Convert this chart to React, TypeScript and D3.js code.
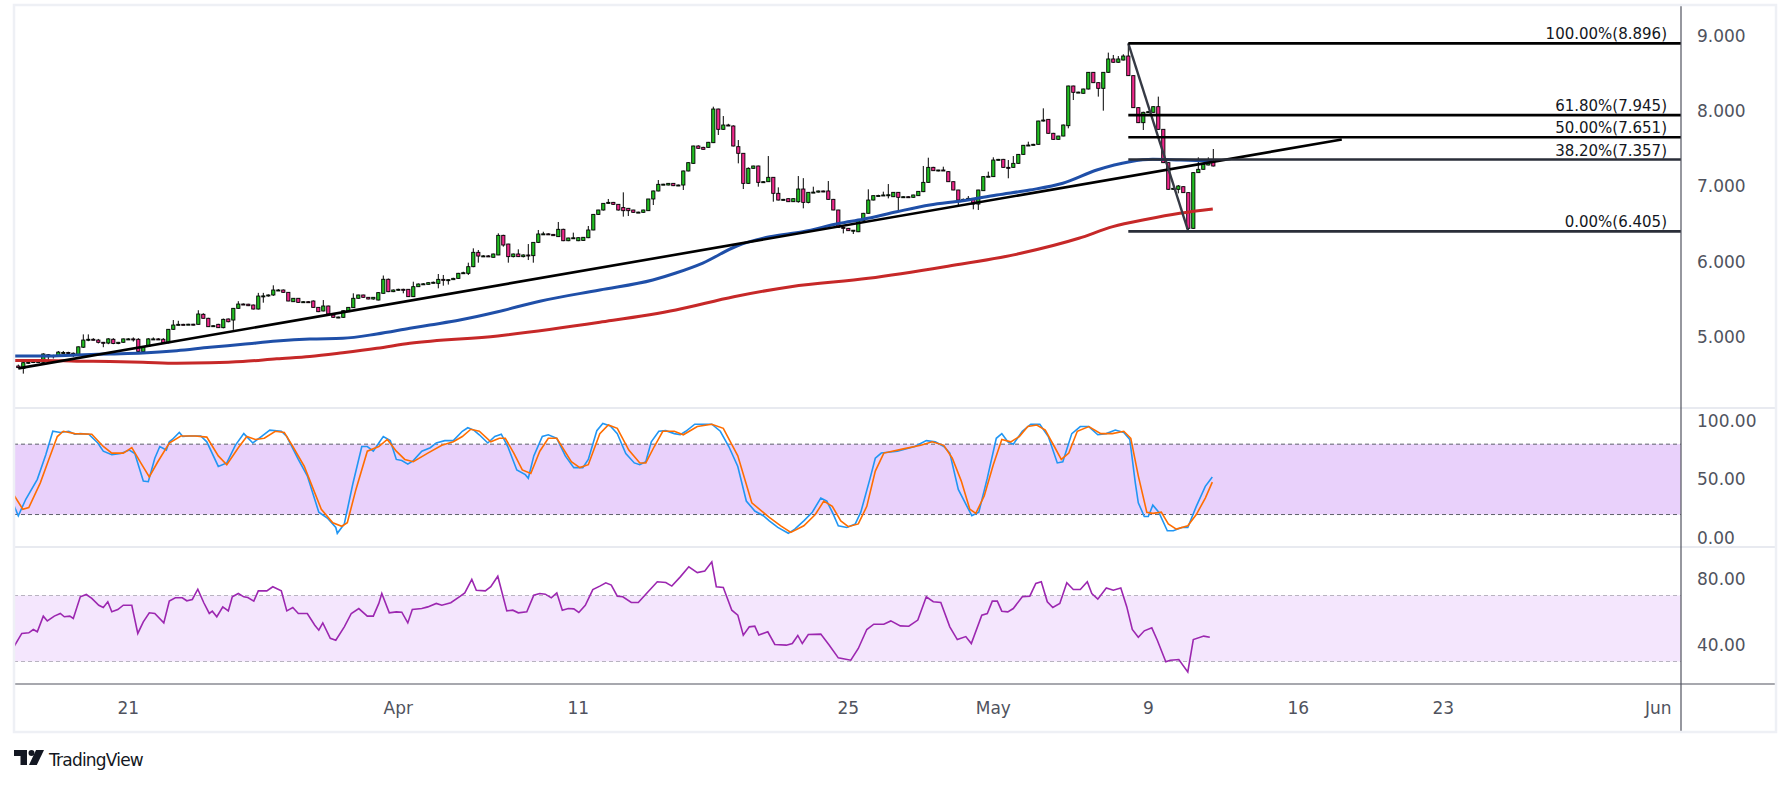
import * as d3 from "d3";

// 4H candles, one row per bar: [open, high, low, close]
const candles: [number, number, number, number][] = [
  [4.62, 4.64, 4.59, 4.6], [4.59, 4.67, 4.52, 4.665], [4.665, 4.69, 4.65, 4.67], [4.67, 4.7, 4.66, 4.68],
  [4.68, 4.7, 4.67, 4.68], [4.67, 4.79, 4.66, 4.78], [4.77, 4.78, 4.7, 4.745], [4.745, 4.77, 4.72, 4.76],
  [4.76, 4.82, 4.75, 4.805], [4.8, 4.82, 4.79, 4.8], [4.8, 4.81, 4.78, 4.79], [4.79, 4.8, 4.74, 4.78],
  [4.775, 4.88, 4.77, 4.875], [4.87, 5.04, 4.86, 4.965], [4.965, 5.04, 4.95, 4.975], [4.975, 4.99, 4.96, 4.97],
  [4.965, 4.98, 4.92, 4.935], [4.935, 4.94, 4.87, 4.93], [4.925, 4.99, 4.91, 4.98], [4.975, 4.99, 4.91, 4.92],
  [4.92, 4.94, 4.91, 4.935], [4.935, 4.985, 4.93, 4.98], [4.98, 4.99, 4.97, 4.98], [4.98, 5.0, 4.945, 4.975],
  [4.975, 4.99, 4.81, 4.815], [4.81, 4.88, 4.8, 4.88], [4.88, 4.99, 4.875, 4.98], [4.98, 5.0, 4.97, 4.98],
  [4.98, 4.99, 4.97, 4.975], [4.975, 4.99, 4.92, 4.93], [4.93, 5.11, 4.92, 5.107], [5.107, 5.23, 5.1, 5.164],
  [5.164, 5.22, 5.16, 5.173], [5.173, 5.18, 5.165, 5.17], [5.17, 5.18, 5.165, 5.175], [5.175, 5.18, 5.16, 5.173],
  [5.173, 5.36, 5.17, 5.31], [5.306, 5.32, 5.25, 5.253], [5.253, 5.26, 5.14, 5.142], [5.142, 5.16, 5.14, 5.155],
  [5.173, 5.18, 5.125, 5.129], [5.129, 5.25, 5.12, 5.239], [5.244, 5.25, 5.2, 5.208], [5.23, 5.39, 5.1, 5.385],
  [5.385, 5.48, 5.38, 5.442], [5.442, 5.45, 5.43, 5.44], [5.44, 5.445, 5.415, 5.42], [5.429, 5.435, 5.37, 5.376],
  [5.376, 5.59, 5.37, 5.548], [5.548, 5.59, 5.46, 5.55], [5.55, 5.57, 5.54, 5.562], [5.562, 5.69, 5.55, 5.628],
  [5.628, 5.64, 5.62, 5.628], [5.628, 5.635, 5.59, 5.597], [5.597, 5.6, 5.48, 5.482], [5.473, 5.52, 5.47, 5.518],
  [5.518, 5.52, 5.46, 5.464], [5.464, 5.48, 5.46, 5.473], [5.473, 5.48, 5.46, 5.47], [5.482, 5.49, 5.395, 5.398],
  [5.398, 5.4, 5.335, 5.341], [5.35, 5.495, 5.345, 5.416], [5.416, 5.42, 5.305, 5.31], [5.297, 5.3, 5.26, 5.266],
  [5.266, 5.275, 5.255, 5.27], [5.266, 5.36, 5.26, 5.354], [5.341, 5.4, 5.34, 5.398], [5.394, 5.584, 5.39, 5.518],
  [5.518, 5.565, 5.515, 5.562], [5.562, 5.565, 5.525, 5.531], [5.531, 5.535, 5.505, 5.509], [5.509, 5.535, 5.5, 5.531],
  [5.495, 5.6, 5.49, 5.593], [5.584, 5.82, 5.58, 5.77], [5.77, 5.78, 5.6, 5.606], [5.606, 5.635, 5.6, 5.628],
  [5.628, 5.645, 5.62, 5.637], [5.637, 5.645, 5.584, 5.635], [5.637, 5.64, 5.535, 5.54], [5.54, 5.738, 5.535, 5.672],
  [5.672, 5.715, 5.67, 5.707], [5.707, 5.72, 5.7, 5.71], [5.703, 5.73, 5.7, 5.725], [5.725, 5.74, 5.715, 5.73],
  [5.716, 5.84, 5.65, 5.769], [5.769, 5.827, 5.685, 5.76], [5.76, 5.77, 5.7, 5.765], [5.765, 5.79, 5.76, 5.782],
  [5.782, 5.855, 5.778, 5.849], [5.849, 5.87, 5.84, 5.857], [5.849, 5.99, 5.827, 5.937], [5.937, 6.18, 5.93, 6.127],
  [6.127, 6.158, 5.99, 6.078], [6.078, 6.09, 6.07, 6.08], [6.08, 6.09, 6.07, 6.075], [6.061, 6.11, 6.06, 6.105],
  [6.092, 6.379, 6.09, 6.352], [6.352, 6.36, 6.202, 6.224], [6.237, 6.24, 5.99, 6.07], [6.07, 6.11, 6.06, 6.105],
  [6.105, 6.167, 6.065, 6.07], [6.07, 6.1, 6.06, 6.092], [6.092, 6.237, 6.025, 6.09], [6.083, 6.26, 5.99, 6.259],
  [6.259, 6.423, 6.25, 6.37], [6.37, 6.4, 6.36, 6.372], [6.372, 6.38, 6.36, 6.365], [6.365, 6.37, 6.345, 6.348],
  [6.335, 6.529, 6.33, 6.432], [6.432, 6.44, 6.275, 6.281], [6.281, 6.32, 6.275, 6.317], [6.317, 6.388, 6.31, 6.32],
  [6.281, 6.325, 6.275, 6.321], [6.285, 6.33, 6.28, 6.326], [6.321, 6.476, 6.315, 6.423], [6.423, 6.635, 6.42, 6.63],
  [6.63, 6.69, 6.625, 6.688], [6.688, 6.78, 6.68, 6.776], [6.776, 6.834, 6.77, 6.789], [6.789, 6.795, 6.755, 6.763],
  [6.763, 6.765, 6.68, 6.688], [6.72, 6.922, 6.6, 6.679], [6.71, 6.715, 6.608, 6.679], [6.688, 6.69, 6.65, 6.657],
  [6.657, 6.665, 6.65, 6.66], [6.657, 6.692, 6.65, 6.688], [6.679, 6.834, 6.675, 6.834], [6.834, 6.945, 6.754, 6.94],
  [6.94, 7.085, 6.935, 7.028], [7.028, 7.035, 7.02, 7.03], [7.019, 7.045, 7.015, 7.041], [7.041, 7.045, 7.005, 7.01],
  [7.01, 7.025, 7.005, 7.019], [7.019, 7.21, 6.953, 7.205], [7.205, 7.32, 7.2, 7.315], [7.306, 7.54, 7.3, 7.536],
  [7.536, 7.545, 7.5, 7.505], [7.518, 7.525, 7.49, 7.492], [7.518, 7.59, 7.515, 7.585], [7.58, 8.057, 7.575, 8.026],
  [8.026, 8.03, 7.682, 7.757], [7.757, 7.933, 7.75, 7.814], [7.814, 7.83, 7.8, 7.81], [7.801, 7.81, 7.53, 7.536],
  [7.527, 7.615, 7.306, 7.439], [7.439, 7.44, 6.966, 7.041], [7.041, 7.253, 7.035, 7.24], [7.24, 7.275, 7.235, 7.271],
  [7.271, 7.275, 6.997, 7.054], [7.054, 7.07, 7.05, 7.063], [7.063, 7.403, 7.06, 7.121], [7.121, 7.125, 6.798, 6.909],
  [6.909, 6.988, 6.815, 6.82], [6.82, 6.835, 6.815, 6.829], [6.838, 6.84, 6.795, 6.798], [6.798, 6.84, 6.795, 6.838],
  [6.798, 7.138, 6.785, 6.966], [6.966, 7.11, 6.71, 6.789], [6.789, 6.925, 6.776, 6.922], [6.922, 6.997, 6.915, 6.925],
  [6.925, 6.945, 6.92, 6.94], [6.94, 6.945, 6.925, 6.931], [6.94, 7.072, 6.825, 6.829], [6.829, 6.835, 6.685, 6.688],
  [6.688, 6.69, 6.45, 6.458], [6.458, 6.46, 6.378, 6.445], [6.445, 6.45, 6.41, 6.414], [6.414, 6.42, 6.37, 6.42],
  [6.4, 6.55, 6.395, 6.546], [6.546, 6.65, 6.54, 6.644], [6.644, 6.962, 6.64, 6.82], [6.82, 6.88, 6.815, 6.878],
  [6.878, 6.89, 6.87, 6.88], [6.88, 6.931, 6.875, 6.887], [6.887, 7.032, 6.842, 6.89], [6.864, 6.925, 6.86, 6.922],
  [6.922, 6.925, 6.666, 6.856], [6.856, 6.87, 6.85, 6.864], [6.864, 6.87, 6.855, 6.862], [6.856, 6.89, 6.85, 6.887],
  [6.878, 6.935, 6.875, 6.935], [6.931, 7.271, 6.925, 7.054], [7.054, 7.381, 7.05, 7.253], [7.253, 7.26, 7.205, 7.209],
  [7.209, 7.22, 7.2, 7.218], [7.218, 7.262, 7.205, 7.209], [7.196, 7.2, 7.06, 7.063], [7.063, 7.065, 6.95, 6.953],
  [6.953, 6.955, 6.754, 6.82], [6.82, 6.84, 6.815, 6.829], [6.829, 6.873, 6.82, 6.842], [6.842, 6.845, 6.697, 6.767],
  [6.767, 6.955, 6.688, 6.953], [6.944, 7.135, 6.94, 7.13], [7.13, 7.196, 7.125, 7.135], [7.13, 7.386, 7.125, 7.35],
  [7.35, 7.365, 7.345, 7.359], [7.359, 7.365, 7.25, 7.253], [7.253, 7.35, 7.108, 7.25], [7.253, 7.403, 7.25, 7.306],
  [7.306, 7.43, 7.3, 7.425], [7.425, 7.55, 7.42, 7.545], [7.545, 7.593, 7.54, 7.549], [7.549, 7.565, 7.545, 7.558],
  [7.558, 7.87, 7.555, 7.867], [7.867, 8.035, 7.86, 7.88], [7.889, 7.89, 7.7, 7.704], [7.704, 7.71, 7.62, 7.624],
  [7.624, 7.67, 7.62, 7.668], [7.668, 7.82, 7.665, 7.814], [7.805, 8.335, 7.77, 8.331], [8.331, 8.335, 8.145, 8.247],
  [8.247, 8.255, 8.24, 8.25], [8.234, 8.295, 8.23, 8.291], [8.291, 8.515, 8.285, 8.512], [8.512, 8.515, 8.37, 8.375],
  [8.375, 8.38, 8.19, 8.3], [8.3, 8.515, 8.004, 8.512], [8.512, 8.773, 8.505, 8.689], [8.689, 8.742, 8.64, 8.645],
  [8.645, 8.728, 8.64, 8.689], [8.675, 8.751, 8.67, 8.728], [8.728, 8.896, 8.465, 8.468], [8.468, 8.47, 8.04, 8.044],
  [8.044, 8.05, 7.84, 7.845], [7.845, 7.99, 7.748, 7.982], [7.982, 7.995, 7.975, 7.991], [7.982, 8.06, 7.978, 8.057],
  [8.057, 8.19, 7.75, 7.757], [7.757, 7.76, 7.31, 7.315], [7.315, 7.32, 6.955, 6.962], [6.962, 6.98, 6.955, 6.975],
  [6.962, 7.019, 6.909, 7.006], [6.997, 7.0, 6.915, 6.918], [6.918, 6.92, 6.405, 6.445], [6.445, 7.19, 6.44, 7.183],
  [7.183, 7.386, 7.18, 7.227], [7.227, 7.295, 7.225, 7.293], [7.284, 7.386, 7.28, 7.319], [7.319, 7.496, 7.265, 7.271],
];

// moving averages: [bar, price]
const ma50Points: [number, number][] = [
  [-0.7, 4.753], [4.9, 4.753], [11.7, 4.767], [18.3, 4.78], [24.9, 4.793], [31.7, 4.824], [38.3, 4.869],
  [44.9, 4.908], [51.7, 4.952], [58.3, 4.979], [64.9, 4.988], [71.7, 5.045], [78.3, 5.12], [82.3, 5.164],
  [88.3, 5.23], [95.9, 5.34], [104.3, 5.48], [116.3, 5.628], [126.9, 5.76], [131.5, 5.853], [136.9, 5.985],
  [143.7, 6.211], [150.3, 6.334], [156.9, 6.4], [164.3, 6.512], [168.9, 6.565], [175.7, 6.665], [182.3, 6.754],
  [188.9, 6.811], [195.7, 6.887], [202.3, 6.953], [208.9, 7.042], [215.7, 7.218], [222.3, 7.328], [226.9, 7.36],
  [232.3, 7.35], [238.9, 7.337],
];
const ma200Points: [number, number][] = [
  [-0.7, 4.694], [4.9, 4.694], [11.7, 4.685], [18.3, 4.681], [24.9, 4.672], [31.7, 4.658], [38.3, 4.664],
  [44.9, 4.681], [51.7, 4.717], [58.3, 4.747], [64.9, 4.797], [71.7, 4.855], [78.3, 4.922], [95.9, 5.02],
  [116.3, 5.2], [131.5, 5.363], [143.1, 5.539], [154.5, 5.672], [170, 5.783], [185.3, 5.937], [200.5, 6.114],
  [212.1, 6.313], [218.9, 6.467], [225.7, 6.565], [232.3, 6.644], [238.9, 6.701],
];

// stochastic %K and %D: [bar, value]
const stochK: [number, number][] = [
  [-0.8, 27], [0, 19], [1.5, 33], [3.8, 50], [5.5, 71], [6.9, 91], [8.4, 90], [10.1, 91], [11.3, 88.5], [12.4, 89],
  [14.1, 88.5], [15.9, 81], [17, 74], [18.7, 71], [20.5, 72], [22.2, 75], [23.3, 72], [25, 48.5], [26, 48], [27.3, 68],
  [28.3, 78], [29.6, 75], [30.2, 82], [30.8, 84], [32.2, 90], [32.9, 86.5], [34.2, 87], [36.5, 87], [37.7, 82], [40, 61],
  [41.7, 64], [43.4, 79], [45.1, 89], [46.9, 81], [48.6, 86.5], [50.3, 92], [52.6, 91], [53.7, 86.5], [56, 67], [57.8, 53],
  [60.1, 22], [61.8, 17], [63.5, 9], [63.8, 4], [65.2, 12], [66.9, 46], [68.7, 78], [69.8, 78], [71, 74], [72.1, 81],
  [73, 86.5], [74.4, 83], [75.6, 67], [76.7, 66], [77.9, 63], [79, 66], [80.7, 74], [82.4, 77], [83.6, 81], [85.3, 83],
  [87, 83], [88.8, 91], [89.9, 94], [91.1, 92], [92.2, 88], [93.9, 81], [95.3, 86.5], [96.6, 88.5], [97.9, 78], [99.7, 58],
  [101.4, 54], [102, 51], [103.1, 70], [104.8, 86.5], [106, 88], [107.7, 85], [109.4, 70], [111.1, 60], [112.9, 60], [114, 67],
  [115.7, 91.5], [116.9, 97.7], [118.4, 95.5], [119.8, 89], [121.5, 72], [123.2, 64], [124.3, 62.5], [125.5, 65], [126.6, 82], [128.1, 91],
  [129.5, 91.5], [131.2, 89], [132.4, 88], [133.5, 91], [135.3, 97], [137, 97], [138.7, 97], [140.4, 91], [142.1, 78], [143.9, 61],
  [145.6, 31.5], [147.3, 23], [149, 19], [150.2, 14.6], [151.9, 9], [154, 4], [155.3, 7.6], [157.1, 14.6], [158.8, 22], [160.5, 34],
  [161.7, 31.5], [162.8, 22], [164, 10.4], [165.7, 9], [167.4, 12], [168.5, 22], [170.3, 50], [171.4, 68], [172.6, 72.4], [175.8, 74],
  [179.3, 78], [181.6, 83], [183.4, 82], [185.1, 78], [186.3, 72.4], [188, 41.4], [189.2, 31.5], [190.7, 19], [192.1, 22], [193.8, 51],
  [195.6, 85], [196.7, 89], [197.9, 82], [199, 80], [200.8, 91], [202.5, 97], [204.3, 97], [206, 86.5], [207.8, 64], [208.9, 65],
  [210.7, 89], [212.4, 95], [214.1, 95], [215.9, 88], [217.6, 89], [219.4, 92], [221.1, 90], [222.3, 84], [223.4, 47], [224, 30],
  [225.2, 18.3], [226, 18.3], [226.9, 28], [228.1, 22], [229.8, 6.2], [231, 6.2], [232.7, 9], [233.9, 9], [235.6, 27], [237.4, 44],
  [238.8, 52],
];
const stochD: [number, number][] = [
  [-0.8, 36], [0.9, 24.5], [2.1, 26], [4.4, 47], [6.1, 67], [7.8, 86.5], [9, 91], [11.3, 89], [14.7, 88.5], [17, 78],
  [18.7, 72.4], [21, 72.4], [22.7, 77], [24.5, 64], [26.2, 52], [27.9, 65], [30.2, 81], [32.5, 87], [35.4, 87], [37.7, 86],
  [40, 70], [41.7, 62.5], [44, 77], [45.7, 86.5], [47.4, 84], [49.2, 85], [51.4, 91], [53.2, 90], [54.9, 78], [57.2, 61],
  [60.6, 24.5], [62.9, 13], [64.7, 10], [65.8, 13], [67.5, 41], [69.8, 74], [72.1, 78], [73.8, 84], [75.6, 74], [77.3, 67],
  [79, 65], [81.9, 72.4], [84.7, 79], [87, 82], [88.8, 86.5], [90.5, 92.7], [92.2, 91], [94.5, 82], [96.2, 85], [97.4, 85],
  [99.1, 72.4], [100.8, 58], [102.5, 55], [104.3, 74], [106, 85], [107.7, 85], [110.6, 65], [112.3, 60], [114, 62.5], [116.3, 89],
  [118, 96.3], [119.8, 93.5], [122.1, 75], [124.3, 64], [125.5, 64], [127.2, 78], [128.9, 91], [131.2, 91], [133, 88], [135.8, 95],
  [138.7, 97], [141, 93.5], [143.9, 70], [146.7, 30], [150.2, 17.5], [152.5, 10.4], [154.5, 4.8], [157.1, 10.4], [159.4, 20], [161.1, 31.5],
  [162.8, 27], [164.5, 14.6], [166, 9.6], [168, 12], [169.7, 27], [171.4, 57], [173.1, 72.4], [177, 76], [180.5, 79], [182.8, 82],
  [185.1, 79], [186.8, 68], [188.6, 48.5], [190.3, 24.5], [191.5, 21], [193.2, 36], [195, 62.5], [196.7, 84], [198.5, 82], [200.2, 86.5],
  [201.9, 95], [203.7, 96.3], [205.4, 92], [207.2, 78], [208.6, 67], [210.1, 72.4], [211.8, 91], [214.1, 95], [216.5, 89], [218.8, 89],
  [221.1, 91], [222.5, 85], [224, 53], [225.7, 22], [226.9, 21], [228.6, 22], [230, 12], [231.6, 7.6], [233.9, 10.4], [235.6, 20],
  [237.4, 34], [238.8, 47.6],
];

// RSI: [bar, value]
const rsiPoints: [number, number][] = [
  [-0.8, 39.3], [0.7, 47], [2.1, 47.4], [3, 49.4], [3.8, 48], [5, 57.5], [5.8, 54.6], [7.2, 57.5], [8.4, 59.1], [9.2, 57.1],
  [10.3, 57.5], [11, 56.1], [12.4, 69.2], [13.6, 70.6], [14.7, 68.2], [16.1, 64.1], [17, 62.7], [17.9, 66.2], [18.7, 60.1], [19.9, 61.5],
  [21, 64.1], [22.7, 64.1], [23.9, 47], [25, 54], [26.2, 59.5], [27.3, 59.1], [29.1, 53.4], [30.2, 66.6], [31.4, 68.6], [32.8, 68.6],
  [33.7, 66.8], [34.8, 67.6], [35.9, 73.8], [37.1, 65.6], [38.2, 59.1], [38.8, 60.5], [39.7, 57.1], [40.9, 63.1], [42, 60.7], [42.8, 69.2],
  [44, 71.2], [45.1, 69.2], [45.9, 68.8], [47.1, 66.6], [48, 72.8], [49.7, 72.8], [50.9, 75.3], [52.6, 72.8], [53.7, 60.7], [54.9, 62.7],
  [56, 59.1], [57.8, 59.1], [59.3, 52], [60.1, 49], [60.9, 53.4], [62.4, 44.1], [63.5, 42.9], [65.2, 51], [66.6, 59.1], [68.1, 62.1],
  [69.8, 57.5], [71, 57.5], [72.1, 65.2], [72.7, 71.2], [74.2, 59.5], [75.6, 60.1], [76.7, 59.9], [77.9, 53.4], [78.8, 61.5], [80.7, 62.1],
  [81.9, 63.1], [83.6, 65.2], [84.7, 64.1], [86.5, 65.6], [88.2, 69.2], [89.3, 71.6], [90.7, 79.7], [91.6, 73.2], [93.4, 72.8], [94.5, 75.3],
  [95.9, 81.7], [97.7, 60.7], [98.9, 61.1], [100, 59.5], [101.7, 60.1], [103.1, 70.2], [104.3, 71.2], [105.4, 70.8], [106.6, 68.6], [107.7, 71.6],
  [108.8, 61.1], [110, 62.1], [111.1, 61.9], [112.1, 59.7], [113.4, 64.1], [114.9, 73.6], [116.3, 75.7], [117.5, 77.7], [118.6, 76.3], [119.8, 69.6],
  [120.9, 69.2], [122.6, 65.8], [124, 65.8], [125.5, 70.8], [127.8, 78.3], [129.5, 77.9], [130.7, 75.7], [132.4, 81.3], [134.1, 87.4], [135.8, 83.9],
  [137.3, 84.9], [138.7, 90.4], [139.6, 75.3], [141, 74.8], [142.7, 61.1], [143.9, 58.1], [145, 46], [146.2, 51], [147.3, 51.4], [148.1, 46],
  [149.9, 48], [151.3, 40.3], [153.6, 39.9], [154.8, 40.9], [155.9, 45.8], [156.8, 40.9], [158, 46.4], [160.5, 46.6], [162.2, 39.9], [164, 32.2],
  [166.5, 30.8], [168, 37.9], [169.7, 49.4], [171.1, 52.6], [173.1, 52.6], [174.5, 54.6], [176.4, 51.6], [178.1, 51.4], [179.9, 55.1], [181.6, 69.2],
  [183, 66.2], [184.5, 65.8], [186.3, 51], [187.8, 43.3], [189.5, 45.1], [190.6, 40.9], [192.7, 58.1], [193.8, 59.1], [194.8, 66.6], [195.8, 66.6],
  [196.7, 60.5], [197.9, 60.1], [199, 62.1], [200.8, 69.2], [202.3, 69.6], [203.5, 77.3], [204.6, 78.3], [205.8, 66.2], [206.9, 62.7], [208.3, 65.2],
  [209.7, 77.7], [211, 73.6], [212.4, 73.6], [213.8, 78.3], [214.7, 71.2], [215.9, 67.8], [217.6, 74.6], [219, 73.2], [220.5, 74.6], [221.7, 63.1],
  [222.8, 49.4], [224, 44.7], [225.2, 48.6], [226.7, 50.4], [227.8, 42.9], [229.5, 29.8], [230.4, 30.8], [232.1, 31.2], [233.9, 23.7], [235, 43.3],
  [237.1, 45.4], [238.3, 44.7],
];

const priceTicks = [5, 6, 7, 8, 9];
const stochTicks = [0, 50, 100];
const rsiTicks = [40, 80];
const timeLabels = ["21", "Apr", "11", "25", "May", "9", "16", "23", "Jun"];
const timeLabelBars = [22, 76, 112, 166, 195, 226, 256, 285, 328];

const trendLine: [number, number][] = [[0, 4.59], [264.7, 7.622]];
const fibLabels = ["100.00%", "61.80%", "50.00%", "38.20%", "0.00%"];
const fibValues = [8.896, 7.945, 7.651, 7.357, 6.405];
const fibColors = ["#000000", "#000000", "#000000", "#2a2e39", "#2a2e39"];
const fibHighBar = 222;
const fibLowBar = 234;

const W = 1791;
const H = 785;
const FONT = "'DejaVu Sans', Verdana, sans-serif";
const frame = { left: 14, top: 5, right: 1776, bottom: 732 };
const plotRight = 1681;
const mainBottom = 408;
const stochBottom = 547;
const rsiBottom = 684;

export default function App() {
  const x = d3.scaleLinear().domain([0, 332.5]).range([18.3, 18.3 + 5 * 332.5]);
  const yP = d3.scaleLinear().domain([5, 9]).range([337.4, 35.5]);
  const yS = d3.scaleLinear().domain([0, 100]).range([538, 420.7]);
  const yR = d3.scaleLinear().domain([40, 80]).range([645, 579]);

  const maLine = d3.line<[number, number]>().x((d) => x(d[0])).y((d) => yP(d[1])).curve(d3.curveMonotoneX);
  const sLine = d3.line<[number, number]>().x((d) => x(d[0])).y((d) => yS(d[1]));
  const rLine = d3.line<[number, number]>().x((d) => x(d[0])).y((d) => yR(d[1]));
  const pLine = d3.line<[number, number]>().x((d) => x(d[0])).y((d) => yP(d[1]));

  const plotW = plotRight - frame.left;
  const labelX = plotRight + 16;

  return (
    <div style={{ position: "absolute", left: 0, top: 0, width: W, height: H, background: "#fff" }}>
      <svg width={W} height={H} style={{ display: "block", fontFamily: FONT }}>
        <defs>
          <clipPath id="clipMain">
            <rect x={frame.left} y={frame.top} width={plotW} height={mainBottom - frame.top} />
          </clipPath>
          <clipPath id="clipStoch">
            <rect x={frame.left} y={mainBottom} width={plotW} height={stochBottom - mainBottom} />
          </clipPath>
          <clipPath id="clipRsi">
            <rect x={frame.left} y={stochBottom} width={plotW} height={rsiBottom - stochBottom} />
          </clipPath>
        </defs>
        <rect x={0} y={0} width={W} height={H} fill="#fff" />

        {/* main pane */}
        <g clipPath="url(#clipMain)">
          {candles.map(([o, h, l, c], i) => {
            const cx = x(i);
            const up = c >= o;
            const top = yP(Math.max(o, c));
            const bh = Math.max(1, Math.abs(yP(o) - yP(c)));
            return (
              <g key={i}>
                <line x1={cx} x2={cx} y1={yP(h)} y2={yP(l)} stroke="#000" strokeWidth={1} />
                <rect
                  x={cx - 1.6}
                  y={top}
                  width={3.2}
                  height={bh}
                  fill={up ? "#22bf22" : "#f0288c"}
                  stroke="#000"
                  strokeWidth={0.9}
                />
              </g>
            );
          })}
          <path d={maLine(ma200Points) ?? ""} fill="none" stroke="#c62828" strokeWidth={3} />
          <path d={maLine(ma50Points) ?? ""} fill="none" stroke="#1f4fa8" strokeWidth={3} />
          <path d={pLine(trendLine) ?? ""} fill="none" stroke="#000" strokeWidth={2.6} />
          <line
            x1={x(fibHighBar)}
            y1={yP(fibValues[0])}
            x2={x(fibLowBar)}
            y2={yP(fibValues[fibValues.length - 1])}
            stroke="#363a45"
            strokeWidth={2.4}
          />
          {fibValues.map((v, i) => (
            <g key={v}>
              <line
                x1={x(fibHighBar)}
                x2={plotRight}
                y1={yP(v)}
                y2={yP(v)}
                stroke={fibColors[i]}
                strokeWidth={2.6}
              />
              <text x={plotRight - 14} y={yP(v) - 4} textAnchor="end" fontSize={15} fill="#131722">
                {`${fibLabels[i]}(${v.toFixed(3)})`}
              </text>
            </g>
          ))}
        </g>

        {/* stochastic pane */}
        <g clipPath="url(#clipStoch)">
          <rect x={frame.left} y={yS(80)} width={plotW} height={yS(20) - yS(80)} fill="#e9d1fb" />
          {[80, 20].map((v) => (
            <line key={v} x1={frame.left} x2={plotRight} y1={yS(v)} y2={yS(v)} stroke="#5d606b" strokeWidth={1} strokeDasharray="4 3" />
          ))}
          <path d={sLine(stochK) ?? ""} fill="none" stroke="#2196f3" strokeWidth={1.6} />
          <path d={sLine(stochD) ?? ""} fill="none" stroke="#ff6d00" strokeWidth={1.6} />
        </g>

        {/* RSI pane */}
        <g clipPath="url(#clipRsi)">
          <rect x={frame.left} y={yR(70)} width={plotW} height={yR(30) - yR(70)} fill="#f4e6fd" />
          {[70, 30].map((v) => (
            <line key={v} x1={frame.left} x2={plotRight} y1={yR(v)} y2={yR(v)} stroke="#b8b3c0" strokeWidth={1} strokeDasharray="4 3" />
          ))}
          <path d={rLine(rsiPoints) ?? ""} fill="none" stroke="#9c27b0" strokeWidth={1.6} />
        </g>

        {/* separators and frame */}
        <line x1={frame.left} x2={frame.right} y1={mainBottom} y2={mainBottom} stroke="#e0e3eb" strokeWidth={1.5} />
        <line x1={frame.left} x2={frame.right} y1={stochBottom} y2={stochBottom} stroke="#e0e3eb" strokeWidth={1.5} />
        <line x1={frame.left} x2={frame.right} y1={rsiBottom} y2={rsiBottom} stroke="#50535e" strokeWidth={1.2} />
        <line x1={plotRight} x2={plotRight} y1={frame.top} y2={frame.bottom} stroke="#50535e" strokeWidth={1.2} />
        <rect
          x={frame.left}
          y={frame.top}
          width={frame.right - frame.left}
          height={frame.bottom - frame.top}
          fill="none"
          stroke="#eef0f5"
          strokeWidth={2.5}
        />

        {/* axis labels */}
        <g fontSize={17} fill="#50535e">
          {priceTicks.map((t) => (
            <text key={`p${t}`} x={labelX} y={yP(t)} dominantBaseline="central">
              {t.toFixed(3)}
            </text>
          ))}
          {stochTicks.map((t) => (
            <text key={`s${t}`} x={labelX} y={yS(t)} dominantBaseline="central">
              {t.toFixed(2)}
            </text>
          ))}
          {rsiTicks.map((t) => (
            <text key={`r${t}`} x={labelX} y={yR(t)} dominantBaseline="central">
              {t.toFixed(2)}
            </text>
          ))}
          {timeLabels.map((t, i) => (
            <text key={t} x={x(timeLabelBars[i])} y={708} textAnchor="middle" dominantBaseline="central">
              {t}
            </text>
          ))}
        </g>

        {/* TradingView logo */}
        <g fill="#131722">
          <path d="M14 750h13v15h-6.5v-9h-6.5z" />
          <circle cx={31.5} cy={753} r={3} />
          <path d="M36 750h8l-7.2 15h-7.8z" />
          <text x={49} y={766} fontSize={17} fontWeight={500} letterSpacing={-0.8}>
            TradingView
          </text>
        </g>
      </svg>
    </div>
  );
}
